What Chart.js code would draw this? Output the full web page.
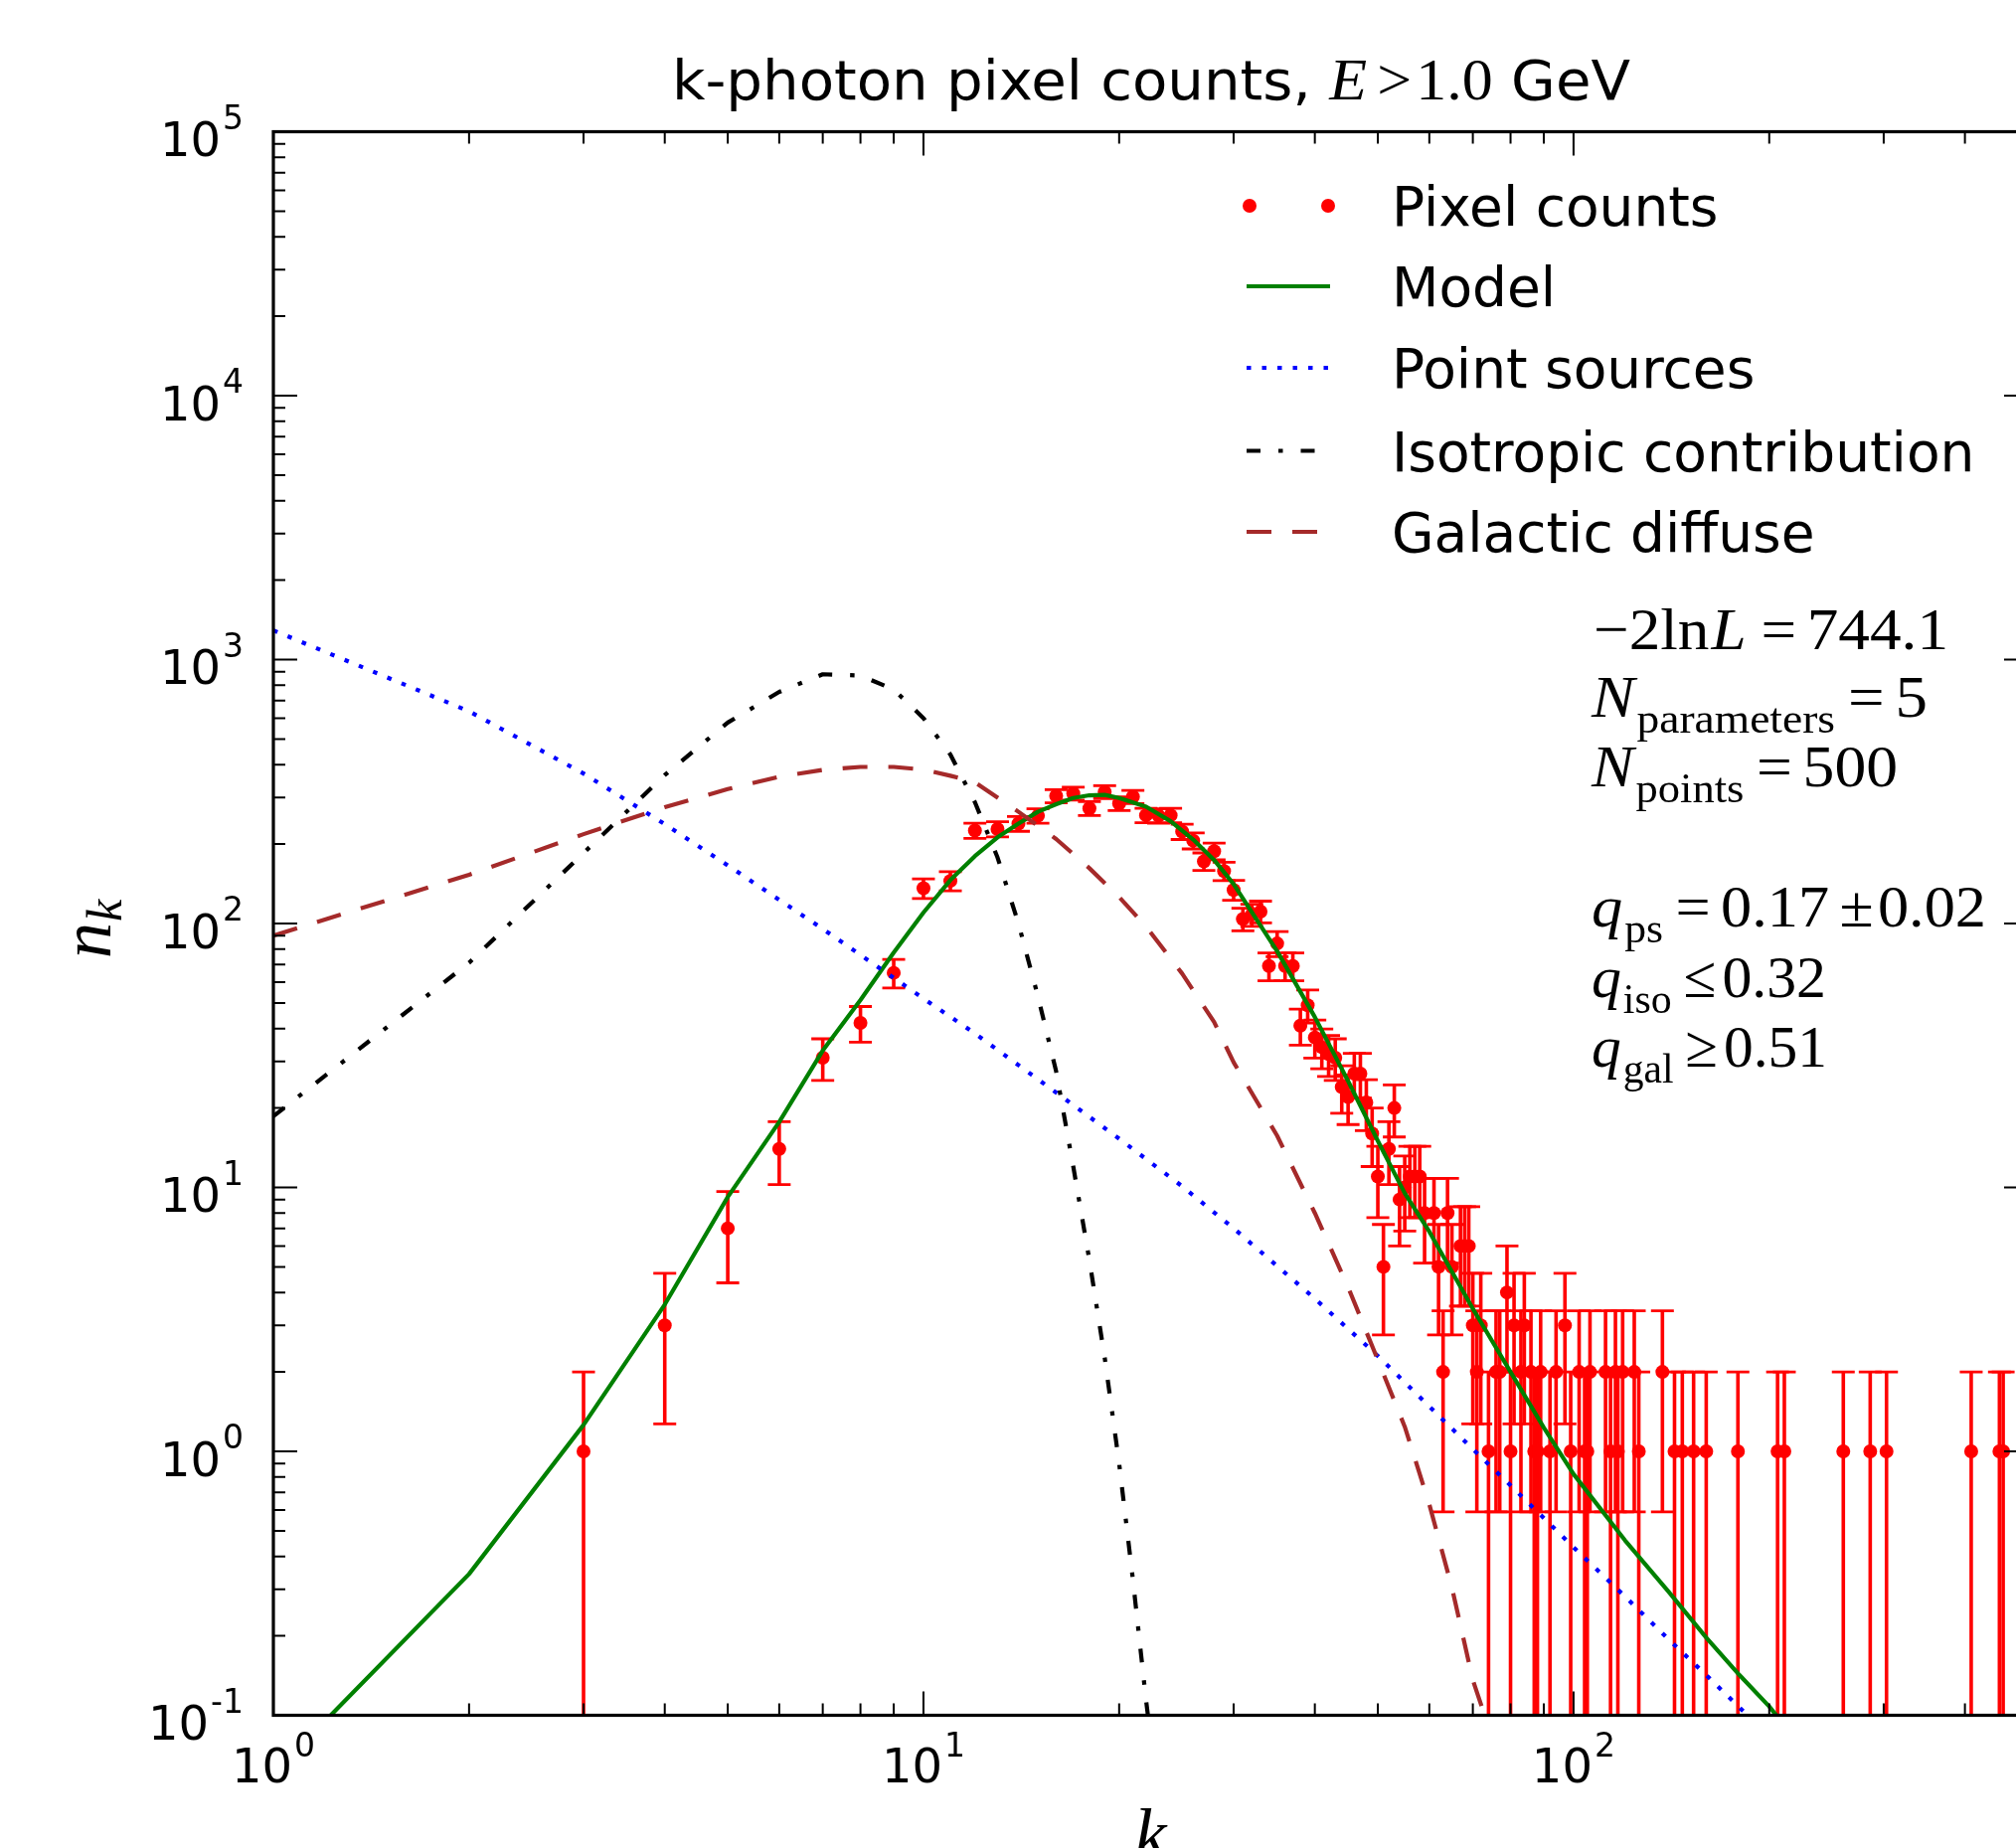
<!DOCTYPE html>
<html><head><meta charset="utf-8">
<script src="https://cdn.jsdelivr.net/npm/chart.js@4/dist/chart.umd.min.js"></script>
<style>html,body{margin:0;padding:0;background:#fff;overflow:hidden;}canvas{display:block;}</style>
</head><body>
<canvas id="c" width="2060" height="1859" style="width:2060px;height:1859px"></canvas>
<script>
// ---- Pixel counts (k, n_k, Poisson error) ----
const countK = [3,4,5,6,7,8,9,10,11,12,13,14,15,16,17,18,19,20,21,22,23,24,25,26,27,28,29,30,
  31,32,33,34,35,36,37,38,39,40,41,42,43,44,45,46,47,48,49,50,51,52,53,54,55,56,57,58,59,61,62,63,64,65,67,68,69,
  70,71,72,74,76,77,79,80,81,83,84,86,87,88,89,92,94,97,99,102,104,105,106,112,114,116,117,119,124,126,137,
  143,147,153,160,179,206,211,260,286,303,409,452,458];
const counts = [1,3,7,14,31,42,65,136,145,225,228,239,256,304,311,273,315,285,302,257,256,257,223,206,172,188,158,134,
  104,108,111,69,84,69,69,41,49,37,34,32,31,24,22,27,27,21,16,11,5,14,20,9,10,11,11,11,8,8,5,2,8,5,6,6,6,
  3,2,3,1,2,2,4,1,3,2,3,2,1,1,2,1,2,3,1,2,1,1,2,2,1,2,1,2,2,1,2,
  1,1,1,1,1,1,1,1,1,1,1,1,1];
const countErr = [1,1.73,2.65,3.74,5.57,6.48,8.06,11.66,12.04,15,15.1,15.46,16,17.44,17.64,16.52,17.75,16.88,17.38,16.03,16,16.03,14.93,14.35,13.11,13.71,12.57,11.58,
  10.2,10.39,10.54,8.31,9.17,8.31,8.31,6.4,7,6.08,5.83,5.66,5.57,4.9,4.69,5.2,5.2,4.58,4,3.32,2.24,3.74,4.47,3,3.16,3.32,3.32,3.32,2.83,2.83,2.24,1.41,2.83,2.24,2.45,2.45,2.45,
  1.73,1.41,1.73,1,1.41,1.41,2,1,1.73,1.41,1.73,1.41,1,1,1.41,1,1.41,1.73,1,1.41,1,1,1.41,1.41,1,1.41,1,1.41,1.41,1,1.41,
  1,1,1,1,1,1,1,1,1,1,1,1,1];

// ---- Model (total) ----
const modelK = [1,2,3,4,5,6,7,8,9,10,11,12,13,14,15,16,17,18,19,20,22,24,26,28,30,35,40,45,50,55,60,70,80,90,100,120,140,160,180,200,210];
const modelN = [0.06,0.343,1.26,3.6,9.2,17.7,33.0,51.3,77.6,110,146,180,212,239,265,283,299,306,307,299,277,244,208,174,141,78.5,44.2,25.3,15.0,9.5,6.8,3.47,2.0,1.23,0.82,0.46,0.294,0.197,0.142,0.108,0.093];

// ---- Point sources ----
const psK = [1,2,3,4,5,6,7,8,10,12,15,20,25,30,40,50,60,70,80,100,120,140,160,180,200];
const psN = [1290,637,370,238,166,123,95.4,76,52,38.3,25.7,15.3,10.1,7.0,3.79,2.30,1.48,1.02,0.743,0.433,0.282,0.194,0.142,0.107,0.083];

// ---- Isotropic contribution ----
const isoK = [1,2,3,4,5,6,7,8,9,10,11,12,13,14,15,16,17,18,19,20,21,22,23];
const isoN = [18.6,71,185,365,577,754,880,870,770,600,437,288,178,100,53,27.5,12.0,5.3,2.27,0.90,0.326,0.114,0.047];

// ---- Galactic diffuse ----
const galK = [1,2,3,4,5,6,7,8,9,10,11,12,14,16,18,20,22,25,28,30,35,40,45,50,55,60,65,70,73,75];
const galN = [90,153,218,276,323,360,382,392,392,383,363,343,265,209,162,126,97.4,64.6,42.3,29.8,15.7,8.0,4.19,2.22,1.24,0.63,0.305,0.136,0.1,0.07];

// ---- Axis ticks (decade exponents) ----
const xTickExps = [0,1,2];
const yTickExps = [-1,0,1,2,3,4,5];

const legendLabels = ['Pixel counts','Model','Point sources','Isotropic contribution','Galactic diffuse'];
const titleText = 'k-photon pixel counts, ';

const pts = (ks, ns) => ks.map((k,i)=>({x:k, y:ns[i]}));

const SANS = '"DejaVu Sans"';
const SERIF = '"Liberation Serif"';
const LW = 4.2;
const DOT = [4.5, 11], DASHDOT = [14, 18, 4.5, 18], DASH = [25, 21];

function drawRuns(ctx, runs, x0, base, x1){
  let w = 0; const ws = [];
  for (const r of runs){ ctx.font = r[1]; const rw = ctx.measureText(r[0]).width; ws.push(rw); w += (r[3]||0) + rw; }
  const sx = x1 ? (x1 - x0)/w : 1;
  ctx.save(); ctx.translate(x0, base); ctx.scale(sx, 1);
  let cx = 0;
  runs.forEach((r,i)=>{ cx += (r[3]||0); ctx.font = r[1]; ctx.fillText(r[0], cx, r[2]||0); cx += ws[i]; });
  ctx.restore();
}

const framePlugin = {
  id: 'frame',
  beforeDatasetsDraw(chart){
    const {ctx, chartArea:a, scales:{x, y}} = chart;
    ctx.save();
    ctx.beginPath(); ctx.rect(a.left, a.top, a.right-a.left, a.bottom-a.top); ctx.clip();
    ctx.strokeStyle = '#ff0000';
    for (let i=0;i<countK.length;i++){
      const px = x.getPixelForValue(countK[i]);
      const hi = counts[i] + countErr[i], lo = counts[i] - countErr[i];
      const yh = y.getPixelForValue(hi);
      const yl = lo > 0.0001 ? y.getPixelForValue(lo) : a.bottom + 20;
      ctx.lineWidth = 3.6; ctx.beginPath(); ctx.moveTo(px, yh); ctx.lineTo(px, yl); ctx.stroke();
      ctx.lineWidth = 2.8; ctx.beginPath();
      ctx.moveTo(px-11.5, yh); ctx.lineTo(px+11.5, yh);
      if (lo > 0.0001){ ctx.moveTo(px-11.5, yl); ctx.lineTo(px+11.5, yl); }
      ctx.stroke();
    }
    ctx.restore();
  },
  afterDraw(chart){
    const {ctx, chartArea:a, scales:{x, y}} = chart;
    ctx.save();
    ctx.strokeStyle = '#000'; ctx.fillStyle = '#000';
    // ticks
    ctx.lineWidth = 2;
    const MAJ = 24, MIN = 12;
    ctx.beginPath();
    for (const e of xTickExps){
      const d = Math.pow(10, e);
      const px = x.getPixelForValue(d);
      ctx.moveTo(px, a.bottom); ctx.lineTo(px, a.bottom-MAJ);
      ctx.moveTo(px, a.top); ctx.lineTo(px, a.top+MAJ);
      for (let m=2;m<=9;m++){
        const v = m*d; if (v >= 500) continue;
        const p = x.getPixelForValue(v);
        ctx.moveTo(p, a.bottom); ctx.lineTo(p, a.bottom-MIN);
        ctx.moveTo(p, a.top); ctx.lineTo(p, a.top+MIN);
      }
    }
    for (const e of yTickExps){
      const d = Math.pow(10, e);
      const py = y.getPixelForValue(d);
      ctx.moveTo(a.left, py); ctx.lineTo(a.left+MAJ, py);
      ctx.moveTo(a.right, py); ctx.lineTo(a.right-MAJ, py);
      if (e < 5) for (let m=2;m<=9;m++){
        const p = y.getPixelForValue(m*d);
        ctx.moveTo(a.left, p); ctx.lineTo(a.left+MIN, p);
        ctx.moveTo(a.right, p); ctx.lineTo(a.right-MIN, p);
      }
    }
    ctx.stroke();
    // spines
    ctx.lineWidth = 3.2;
    ctx.strokeRect(a.left, a.top, a.right-a.left, a.bottom-a.top);

    // tick labels
    ctx.textBaseline = 'alphabetic';
    const F1 = '48px ' + SANS, F2 = '33px ' + SANS;
    for (const e of yTickExps){
      const py = y.getPixelForValue(Math.pow(10, e));
      const es = e < 0 ? '-' + (-e) : String(e);
      ctx.font = F1; const w1 = ctx.measureText('10').width;
      ctx.font = F2; const w2 = ctx.measureText(es).width;
      const x0 = a.left - 30 - (w1 + 2 + w2);
      ctx.font = F1; ctx.fillText('10', x0, py + 24.5);
      ctx.font = F2; ctx.fillText(es, x0 + w1 + 2, py - 3);
    }
    for (const e of xTickExps){
      const px = x.getPixelForValue(Math.pow(10, e));
      const es = String(e);
      ctx.font = F1; const w1 = ctx.measureText('10').width;
      ctx.font = F2; const w2 = ctx.measureText(es).width;
      const x0 = px - (w1 + 2 + w2)/2;
      ctx.font = F1; ctx.fillText('10', x0, 1793);
      ctx.font = F2; ctx.fillText(es, x0 + w1 + 2, 1767);
    }

    // axis titles
    ctx.save(); ctx.translate(111, 964); ctx.rotate(-Math.PI/2);
    ctx.font = 'italic 72px ' + SERIF; ctx.fillText('n', 0, 0);
    const nw = ctx.measureText('n').width;
    ctx.font = 'italic 50px ' + SERIF; ctx.fillText('k', nw + 1, 11);
    ctx.restore();
    ctx.font = 'italic 72px ' + SERIF; ctx.textAlign = 'center';
    ctx.fillText('k', (a.left + a.right)/2, 1869);
    ctx.textAlign = 'left';

    // title
    drawRuns(ctx, [
      [titleText, '56px ' + SANS],
      ['E', 'italic 60px ' + SERIF],
      ['>', '60px ' + SERIF, 0, 10],
      ['1.0', '60px ' + SERIF, 0, 4],
      [' GeV', '56px ' + SANS]
    ], 676, 100, 1640);

    // legend
    const lx0 = 1254, lx1 = 1338, tx = 1400;
    const rows = [207, 288, 370, 453.5, 535];
    ctx.font = '55px ' + SANS;
    legendLabels.forEach((t, i)=> ctx.fillText(t, tx, rows[i] + 20));
    ctx.fillStyle = '#ff0000';
    [1257, 1336].forEach(px => { ctx.beginPath(); ctx.arc(px, rows[0], 7, 0, Math.PI*2); ctx.fill(); });
    const seg = (yy, color, dash) => {
      ctx.strokeStyle = color; ctx.lineWidth = LW; ctx.setLineDash(dash); ctx.lineCap = 'butt';
      ctx.beginPath(); ctx.moveTo(lx0, yy); ctx.lineTo(lx1, yy); ctx.stroke(); ctx.setLineDash([]);
    };
    seg(rows[1], '#008000', []);
    seg(rows[2], '#0000ff', DOT);
    seg(rows[3], '#000000', DASHDOT);
    seg(rows[4], '#a52a2a', DASH);

    // statistics text
    ctx.fillStyle = '#000';
    const R = '60px ' + SERIF, I = 'italic 60px ' + SERIF, S = '42px ' + SERIF;
    drawRuns(ctx, [['\u22122ln', R], ['L', I, 0, 2], ['=', R, 0, 14], ['744.1', R, 0, 10]], 1603, 653, 1960);
    drawRuns(ctx, [['N', I], ['parameters', S, 16, 2], ['=', R, 0, 12], ['5', R, 0, 10]], 1601, 721, 1939);
    drawRuns(ctx, [['N', I], ['points', S, 16, 2], ['=', R, 0, 12], ['500', R, 0, 10]], 1601, 791, 1909);
    drawRuns(ctx, [['q', I], ['ps', S, 16, 2], ['=', R, 0, 12], ['0.17', R, 0, 10], ['\u00b1', R, 0, 10], ['0.02', R, 0, 4]], 1601, 932, 1998);
    drawRuns(ctx, [['q', I], ['iso', S, 16, 2], ['\u2264', R, 0, 12], ['0.32', R, 0, 6]], 1601, 1003, 1837);
    drawRuns(ctx, [['q', I], ['gal', S, 16, 2], ['\u2265', R, 0, 12], ['0.51', R, 0, 6]], 1601, 1073, 1838);
    ctx.restore();
  }
};

const lineDs = (label, ks, ns, color, dash, order) => ({
  label, data: pts(ks, ns), showLine: true, borderColor: color, borderWidth: LW,
  borderDash: dash, borderCapStyle: 'butt', borderJoinStyle: 'round', pointRadius: 0, pointHoverRadius: 0,
  fill: false, tension: 0, order
});

new Chart(document.getElementById('c'), {
  type: 'scatter',
  data: { datasets: [
    { label: legendLabels[0], data: pts(countK, counts), pointRadius: 7, pointHoverRadius: 7,
      pointBackgroundColor: '#ff0000', pointBorderWidth: 0, borderColor: '#ff0000', showLine: false, order: 10 },
    lineDs(legendLabels[1], modelK, modelN, '#008000', [], 4),
    lineDs(legendLabels[2], psK, psN, '#0000ff', DOT, 3),
    lineDs(legendLabels[3], isoK, isoN, '#000000', DASHDOT, 2),
    lineDs(legendLabels[4], galK, galN, '#a52a2a', DASH, 1)
  ]},
  options: {
    responsive: false, devicePixelRatio: 1, animation: false,
    layout: { padding: { left: 275, right: 20, top: 132.5, bottom: 133.5 } },
    plugins: { legend: { display: false }, tooltip: { enabled: false }, title: { display: false } },
    scales: {
      x: { type: 'logarithmic', min: 1, max: 500, display: false },
      y: { type: 'logarithmic', min: 0.1, max: 100000, display: false }
    }
  },
  plugins: [framePlugin]
});
</script>
</body></html>
